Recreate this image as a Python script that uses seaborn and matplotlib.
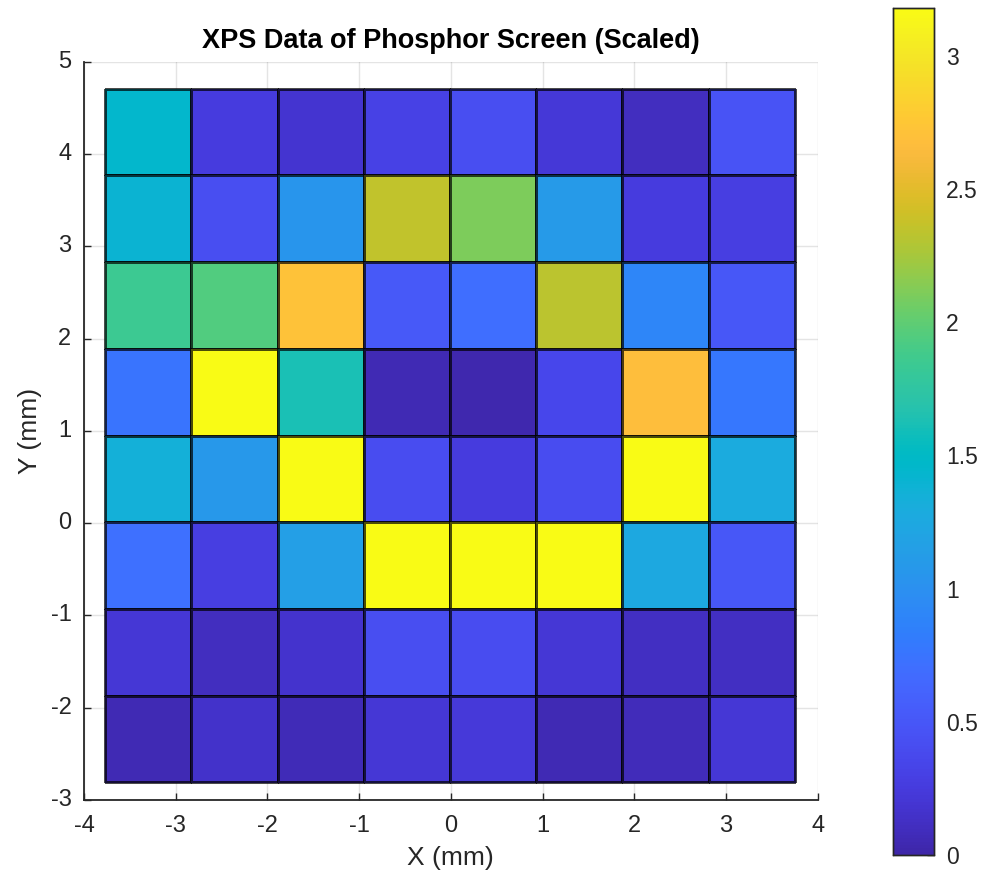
import numpy as np
import pandas as pd
import matplotlib
matplotlib.use("Agg")
import matplotlib.pyplot as plt
from matplotlib.colors import LinearSegmentedColormap
import seaborn as sns

# Cell centres (mm)
x_centers = [-3.30, -2.36, -1.41, -0.47, 0.47, 1.41, 2.36, 3.30]
y_centers = [4.24, 3.30, 2.36, 1.41, 0.47, -0.47, -1.41, -2.36]

# Scaled XPS intensity, one list per row from top (y = 4.24) to bottom (y = -2.36)
row_y424 = [1.45, 0.26, 0.18, 0.30, 0.42, 0.22, 0.10, 0.46]
row_y330 = [1.40, 0.42, 1.05, 2.36, 2.10, 1.10, 0.25, 0.28]
row_y236 = [1.85, 1.95, 2.72, 0.52, 0.70, 2.33, 0.90, 0.50]
row_y141 = [0.75, 3.18, 1.62, 0.05, 0.03, 0.36, 2.68, 0.78]
row_y047 = [1.35, 1.08, 3.18, 0.40, 0.25, 0.40, 3.18, 1.28]
row_ym047 = [0.72, 0.28, 1.15, 3.18, 3.18, 3.18, 1.25, 0.50]
row_ym141 = [0.20, 0.10, 0.17, 0.42, 0.40, 0.20, 0.12, 0.12]
row_ym236 = [0.05, 0.15, 0.07, 0.20, 0.23, 0.06, 0.08, 0.20]

clim = (0.0, 3.18)
x_ticks = [-4, -3, -2, -1, 0, 1, 2, 3, 4]
y_ticks = [-3, -2, -1, 0, 1, 2, 3, 4, 5]
cbar_ticks = [0, 0.5, 1, 1.5, 2, 2.5, 3]
cbar_labels = ["0", "0.5", "1", "1.5", "2", "2.5", "3"]

# parula colour anchors
parula_rgb = [
    (0.2422, 0.1504, 0.6603), (0.2504, 0.1650, 0.7076), (0.2578, 0.1818, 0.7511),
    (0.2647, 0.1978, 0.7952), (0.2706, 0.2147, 0.8364), (0.2751, 0.2342, 0.8710),
    (0.2783, 0.2559, 0.8991), (0.2803, 0.2782, 0.9221), (0.2813, 0.3006, 0.9414),
    (0.2810, 0.3228, 0.9579), (0.2795, 0.3447, 0.9717), (0.2760, 0.3667, 0.9829),
    (0.2699, 0.3892, 0.9906), (0.2602, 0.4123, 0.9952), (0.2440, 0.4358, 0.9988),
    (0.2206, 0.4603, 0.9973), (0.1963, 0.4847, 0.9892), (0.1834, 0.5074, 0.9798),
    (0.1786, 0.5289, 0.9682), (0.1764, 0.5499, 0.9520), (0.1687, 0.5703, 0.9359),
    (0.1540, 0.5902, 0.9218), (0.1460, 0.6091, 0.9079), (0.1380, 0.6276, 0.8973),
    (0.1248, 0.6459, 0.8883), (0.1113, 0.6635, 0.8763), (0.0952, 0.6798, 0.8598),
    (0.0689, 0.6948, 0.8394), (0.0297, 0.7082, 0.8163), (0.0036, 0.7203, 0.7917),
    (0.0067, 0.7312, 0.7660), (0.0433, 0.7411, 0.7394), (0.0964, 0.7500, 0.7120),
    (0.1408, 0.7584, 0.6842), (0.1717, 0.7670, 0.6554), (0.1938, 0.7758, 0.6251),
    (0.2161, 0.7843, 0.5923), (0.2470, 0.7918, 0.5567), (0.2906, 0.7973, 0.5188),
    (0.3406, 0.8008, 0.4789), (0.3909, 0.8029, 0.4354), (0.4456, 0.8024, 0.3909),
    (0.5044, 0.7993, 0.3480), (0.5616, 0.7942, 0.3045), (0.6174, 0.7876, 0.2612),
    (0.6720, 0.7793, 0.2227), (0.7242, 0.7698, 0.1910), (0.7738, 0.7598, 0.1646),
    (0.8203, 0.7498, 0.1535), (0.8634, 0.7406, 0.1596), (0.9035, 0.7330, 0.1774),
    (0.9393, 0.7288, 0.2100), (0.9728, 0.7298, 0.2394), (0.9956, 0.7434, 0.2371),
    (0.9970, 0.7659, 0.2199), (0.9952, 0.7893, 0.2028), (0.9892, 0.8136, 0.1885),
    (0.9786, 0.8386, 0.1766), (0.9676, 0.8639, 0.1643), (0.9610, 0.8890, 0.1537),
    (0.9597, 0.9135, 0.1423), (0.9628, 0.9373, 0.1265), (0.9691, 0.9606, 0.1064),
    (0.9769, 0.9839, 0.0805),
]
parula = LinearSegmentedColormap.from_list("parula", parula_rgb, N=256)

sns.set_theme(style="white")
plt.rcParams["font.family"] = ["Liberation Sans", "DejaVu Sans"]
axis_grey = (0.15, 0.15, 0.15)

data = pd.DataFrame(
    [row_y424, row_y330, row_y236, row_y141, row_y047, row_ym047, row_ym141, row_ym236],
    index=y_centers, columns=x_centers,
)

fig = plt.figure(figsize=(9.81, 8.86), dpi=100)
ax = fig.add_axes([0.0856, 0.0971, 0.748, 0.833])
cax = fig.add_axes([0.910, 0.035, 0.0418, 0.956])

sns.heatmap(
    data, ax=ax, cbar_ax=cax, cmap=parula, vmin=clim[0], vmax=clim[1],
    linewidths=1.0, linecolor=(0, 0, 0, 0.7), square=False,
    cbar_kws={"ticks": cbar_ticks},
)

# heatmap cells sit at integer index positions; map mm onto them
pitch_x = x_centers[1] - x_centers[0]
pitch_y = y_centers[0] - y_centers[1]


def ux(x):
    return (x - x_centers[0]) / pitch_x + 0.5


def vy(y):
    return (y_centers[0] - y) / pitch_y + 0.5


ax.set_xlim(ux(x_ticks[0]), ux(x_ticks[-1]))
ax.set_ylim(vy(y_ticks[0]), vy(y_ticks[-1]))
ax.set_xticks([ux(t) for t in x_ticks])
ax.set_xticklabels([str(t) for t in x_ticks], rotation=0)
ax.set_yticks([vy(t) for t in y_ticks])
ax.set_yticklabels([str(t) for t in y_ticks], rotation=0)

ax.grid(True, color=(0.15, 0.15, 0.15), alpha=0.12, linewidth=1.0)
ax.set_axisbelow(True)
for side in ("left", "bottom"):
    ax.spines[side].set_visible(True)
    ax.spines[side].set_color(axis_grey)
    ax.spines[side].set_linewidth(1.3)
for side in ("top", "right"):
    ax.spines[side].set_visible(False)

ax.tick_params(axis="x", direction="in", length=5, width=1.0, color=axis_grey,
               labelsize=17, labelcolor=axis_grey, pad=11,
               bottom=True, top=False)
ax.tick_params(axis="y", direction="in", length=5, width=1.0, color=axis_grey,
               labelsize=17, labelcolor=axis_grey, pad=9,
               left=True, right=False)

ax.set_xlabel("X (mm)", fontsize=19, color=axis_grey, labelpad=6)
ax.set_ylabel("Y (mm)", fontsize=19, color=axis_grey, labelpad=6)
ax.set_title("XPS Data of Phosphor Screen (Scaled)", fontsize=19.5,
             fontweight="bold", color=(0, 0, 0), pad=10)

cax.set_yticklabels(cbar_labels)
cax.tick_params(axis="y", direction="in", length=5, width=1.0, color=axis_grey,
                labelsize=16.5, labelcolor=axis_grey, pad=9, right=True)
for sp in cax.spines.values():
    sp.set_visible(True)
    sp.set_color(axis_grey)
    sp.set_linewidth(1.0)

fig.savefig("out.png", dpi=100)
